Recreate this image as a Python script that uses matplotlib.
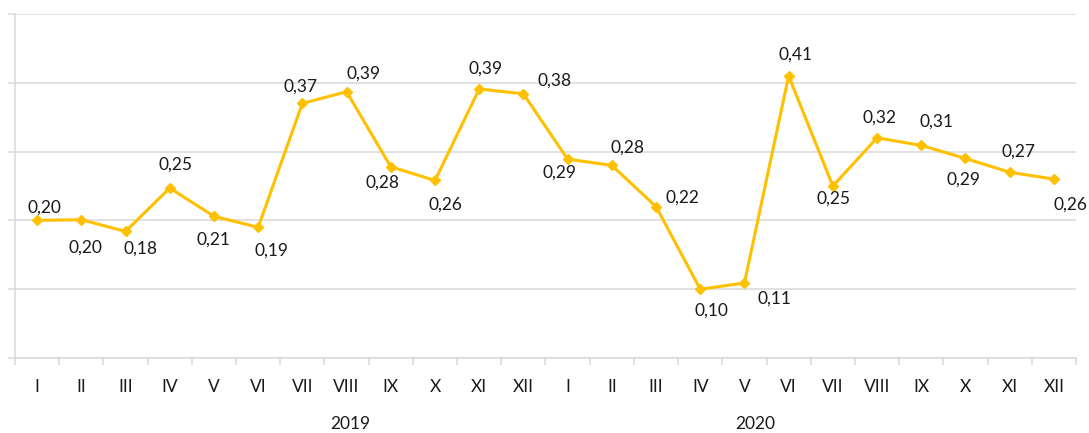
import matplotlib
matplotlib.use("Agg")
import matplotlib.pyplot as plt
import matplotlib.transforms as mtransforms

months = ["I", "II", "III", "IV", "V", "VI", "VII", "VIII", "IX", "X", "XI", "XII"]
years = ["2019", "2020"]
values_2019 = [0.200, 0.201, 0.184, 0.247, 0.206, 0.190, 0.370, 0.387, 0.278, 0.258, 0.391, 0.384]
values_2020 = [0.289, 0.280, 0.220, 0.100, 0.109, 0.410, 0.250, 0.320, 0.309, 0.290, 0.270, 0.260]

# label offsets (pixels, dx, dy downwards) as placed in the original chart
label_offsets = [(7, -13), (4, 28), (15, 17), (6, -23), (0, 23), (13, 23),
                 (-2, -17), (17, -18), (-8, 16), (10, 24), (6, -20), (31, -13),
                 (-8, 13), (16, -18), (26, -9), (11, 21), (30, 16), (7, -21),
                 (1, 13), (2, -20), (15, -24), (-2, 21), (9, -21), (17, 26)]

values = values_2019 + values_2020
labels = months + months
x = list(range(len(values)))

plt.rcParams['font.family'] = ['Lato', 'DejaVu Sans']

fig = plt.figure(figsize=(10.89, 4.33), dpi=100)
ax = fig.add_axes([15/1089, 1 - 358/433, (1076 - 15)/1089, (358 - 14)/433])

gold = '#FFC000'
grid_c = '#D9D9D9'
text_c = '#1a1a1a'

ax.set_xlim(-0.5, len(values) - 0.5)
ax.set_ylim(0, 0.5)
ax.set_yticks([0.0, 0.1, 0.2, 0.3, 0.4, 0.5])
ax.set_yticklabels([])
ax.yaxis.grid(True, color=grid_c, linewidth=1.1)
ax.set_axisbelow(True)

ax.plot(x, values, color=gold, linewidth=2.2, marker='D', markersize=5.5,
        markerfacecolor=gold, markeredgecolor=gold, zorder=3)

for xi, v, (dx, dy) in zip(x, values, label_offsets):
    ax.annotate(f"{v:.2f}".replace('.', ','), (xi, v), xytext=(dx, -dy),
                textcoords='offset pixels', ha='center', va='center',
                fontsize=12.5, color=text_c)

# x ticks: boundaries as ticks, labels centered
ax.set_xticks([i - 0.5 for i in range(len(values) + 1)])
ax.set_xticklabels([])
ax.set_xticks(x, minor=True)
ax.set_xticklabels(labels, minor=True, fontsize=12.5, color=text_c)
ax.tick_params(axis='x', which='major', length=5, color=grid_c, width=1.1, direction='out')
ax.tick_params(axis='x', which='minor', length=0, pad=15)
ax.tick_params(axis='y', which='major', length=5, color=grid_c, width=1.1, direction='out')

for s in ['top', 'right']:
    ax.spines[s].set_visible(False)
for s in ['left', 'bottom']:
    ax.spines[s].set_color(grid_c)
    ax.spines[s].set_linewidth(1.1)

trans = mtransforms.blended_transform_factory(ax.transData, fig.transFigure)
year_pos = [7.08, 16.24]
for yp, yr in zip(year_pos, years):
    ax.text(yp, 1 - 424/433, yr, transform=trans, ha='center', va='center',
            fontsize=12.5, color=text_c)

fig.savefig('out.png', dpi=100, facecolor='white')
